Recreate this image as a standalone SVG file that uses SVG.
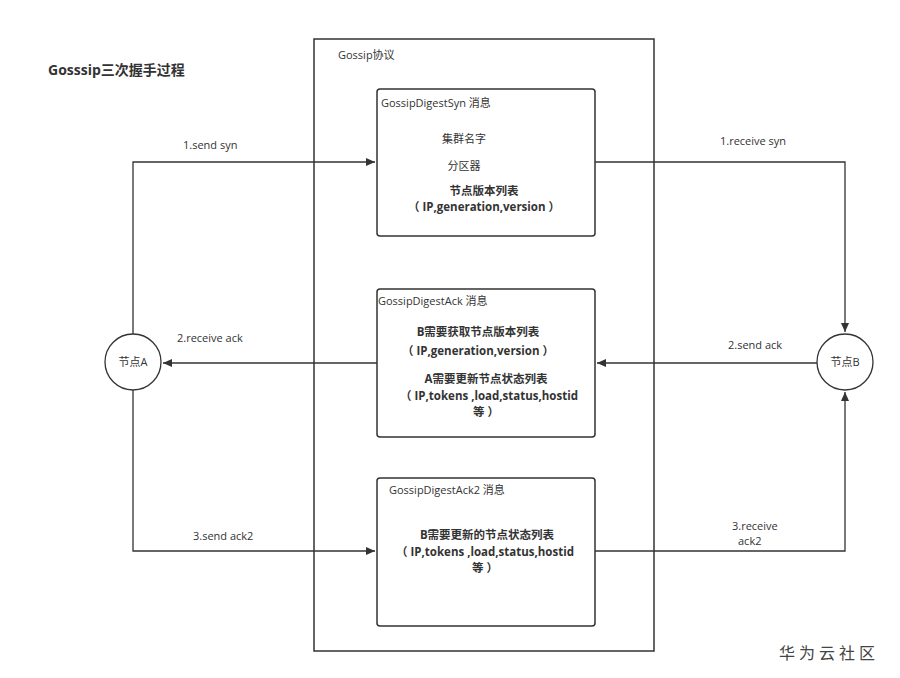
<svg xmlns="http://www.w3.org/2000/svg" width="900" height="678" viewBox="0 0 900 678">
<style>
text{font-family:"Open Sans","Noto Sans CJK SC",sans-serif;fill:#333;font-size:11px}
.b{font-weight:bold;font-size:11.5px}
.c{text-anchor:middle}
.box{fill:#fff;stroke:#333;stroke-width:1.5}
.ln{fill:none;stroke:#333;stroke-width:1.3}
</style>
<defs><marker id="a" markerWidth="10" markerHeight="10" refX="9" refY="5" orient="auto" markerUnits="userSpaceOnUse"><path d="M0,1 L9,5 L0,9 z" fill="#333"/></marker></defs>
<rect width="900" height="678" fill="#fff"/>
<text x="48" y="75" style="font-size:14px;font-weight:bold">Gosssip三次握手过程</text>
<g id="protocol"><rect x="314" y="39" width="340" height="612" fill="none" stroke="#333" stroke-width="1.5"/><text x="338" y="59">Gossip协议</text></g>
<g id="syn"><rect class="box" x="377" y="89" width="218" height="147" rx="3"/>
<text x="381" y="107">GossipDigestSyn 消息</text>
<text class="c" x="464" y="143">集群名字</text>
<text class="c" x="464" y="170">分区器</text>
<text class="b c" x="484" y="195">节点版本列表</text>
<text class="b c" x="484" y="211">（ IP,generation,version ）</text></g>
<g id="ack"><rect class="box" x="377" y="289" width="218" height="148" rx="3"/>
<text x="378" y="305">GossipDigestAck 消息</text>
<text class="b c" x="478" y="336">B需要获取节点版本列表</text>
<text class="b c" x="478" y="355">（ IP,generation,version ）</text>
<text class="b c" x="486" y="383">A需要更新节点状态列表</text>
<text class="b c" x="489" y="400">（ IP,tokens ,load,status,hostid</text>
<text class="b c" x="486" y="416">等 ）</text></g>
<g id="ack2"><rect class="box" x="377" y="478" width="218" height="148" rx="3"/>
<text x="389" y="494">GossipDigestAck2 消息</text>
<text class="b c" x="487" y="539">B需要更新的节点状态列表</text>
<text class="b c" x="485" y="556">（ IP,tokens ,load,status,hostid</text>
<text class="b c" x="485" y="572">等 ）</text></g>
<g id="nodeA"><circle cx="133" cy="362" r="28" fill="#fff" stroke="#333" stroke-width="1.3"/><text class="c" x="133" y="366">节点A</text></g>
<g id="nodeB"><circle cx="845" cy="362" r="28" fill="#fff" stroke="#333" stroke-width="1.3"/><text class="c" x="845" y="366">节点B</text></g>
<g id="connectors">
<path class="ln" d="M133,334 V162 H375" marker-end="url(#a)"/>
<path class="ln" d="M595,162 H845 V332" marker-end="url(#a)"/>
<path class="ln" d="M377,363 H163" marker-end="url(#a)"/>
<path class="ln" d="M817,363 H597" marker-end="url(#a)"/>
<path class="ln" d="M133,390 V551 H375" marker-end="url(#a)"/>
<path class="ln" d="M595,551 H845 V392" marker-end="url(#a)"/>
</g>
<text x="183" y="149">1.send syn</text>
<text x="720" y="145">1.receive syn</text>
<text x="177" y="342">2.receive ack</text>
<text x="728" y="349">2.send ack</text>
<text x="193" y="540">3.send ack2</text>
<text x="732" y="530">3.receive</text>
<text x="738" y="545">ack2</text>
<text x="779" y="659" style="font-size:16px;letter-spacing:4px;fill:#444">华为云社区</text>
</svg>
